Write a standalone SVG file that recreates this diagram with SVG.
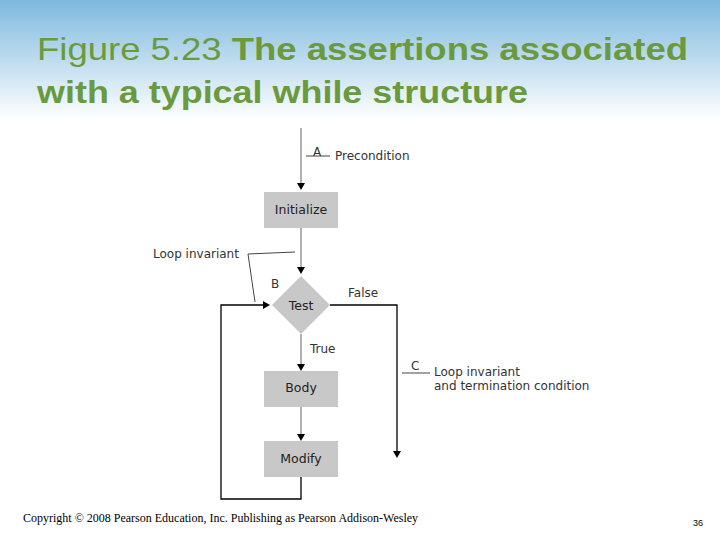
<svg xmlns="http://www.w3.org/2000/svg" width="720" height="540" viewBox="0 0 720 540">
<defs>
<linearGradient id="bg" x1="0" y1="0" x2="0" y2="1">
<stop offset="0" stop-color="#7db9de"/><stop offset="1" stop-color="#ffffff"/>
</linearGradient>
<marker id="ar" viewBox="0 0 10 10" refX="10" refY="5" markerWidth="8" markerHeight="8" markerUnits="userSpaceOnUse" orient="auto"><path d="M0,0 L10,5 L0,10 z" fill="#000"/></marker>
<style>
.t{font-family:"Liberation Sans",Arial,sans-serif;fill:#6a9a3c;font-size:32px}
.l{font-family:"DejaVu Sans",sans-serif;font-size:12px;fill:#333}
.n{font-family:"DejaVu Sans",sans-serif;font-size:12.5px;fill:#222;text-anchor:middle}
.box{fill:#c8c8c8}
.g{stroke:#b0b0b0;stroke-width:2;fill:none}
.k{stroke:#000;stroke-width:1.3;fill:none}
.th{stroke:#444;stroke-width:1;fill:none}
</style>
</defs>
<rect width="720" height="120" fill="url(#bg)"/>
<text class="t" x="37" y="60" textLength="651" lengthAdjust="spacingAndGlyphs">Figure 5.23  <tspan font-weight="bold">The assertions associated</tspan></text>
<text class="t" x="37" y="103" font-weight="bold" textLength="491" lengthAdjust="spacingAndGlyphs">with a typical while structure</text>
<g id="connectors">
<line class="g" x1="301" y1="128" x2="301" y2="183"/>
<path d="M297,183 L305,183 L301,190 z"/>
<line class="g" x1="301" y1="228" x2="301" y2="267"/>
<path d="M297,267 L305,267 L301,274 z"/>
<line class="g" x1="301" y1="334" x2="301" y2="364"/>
<path d="M297,364 L305,364 L301,371 z"/>
<line class="g" x1="301" y1="407" x2="301" y2="434"/>
<path d="M297,434 L305,434 L301,441 z"/>
<polyline class="k" points="330,305 397,305 397,452"/>
<path d="M393,451 L401,451 L397,458 z"/>
<polyline class="k" points="301,477 301,499 221,499 221,305 264,305"/>
<path d="M263,301 L263,309 L270,305 z"/>
<line class="th" x1="306" y1="156" x2="330" y2="156"/>
<line class="th" x1="402" y1="373" x2="430" y2="373"/>
<polyline class="th" points="295,252 248,254 255,302"/>
</g>
<g id="initialize"><rect class="box" x="264" y="192" width="74" height="36"/><text class="n" x="301" y="214">Initialize</text></g>
<g id="test"><path class="box" d="M301,276 L330,305 L301,334 L272,305 z"/><text class="n" x="301" y="310">Test</text></g>
<g id="body"><rect class="box" x="264" y="371" width="74" height="36"/><text class="n" x="301" y="392">Body</text></g>
<g id="modify"><rect class="box" x="264" y="441" width="74" height="36"/><text class="n" x="301" y="463">Modify</text></g>
<g id="labels">
<text class="l" x="313" y="156">A</text>
<text class="l" x="335" y="160">Precondition</text>
<text class="l" x="153" y="258">Loop invariant</text>
<text class="l" x="271" y="288">B</text>
<text class="l" x="348" y="297" fill="#111">False</text>
<text class="l" x="310" y="353" fill="#111">True</text>
<text class="l" x="411" y="370">C</text>
<text class="l" x="434" y="376">Loop invariant</text>
<text class="l" x="434" y="390">and termination condition</text>
</g>
<text x="23" y="522" font-family="Liberation Serif,serif" font-size="12" fill="#000">Copyright © 2008 Pearson Education, Inc. Publishing as Pearson Addison-Wesley</text>
<text x="693" y="526" font-family="Liberation Sans,sans-serif" font-size="9" fill="#000">36</text>
</svg>
